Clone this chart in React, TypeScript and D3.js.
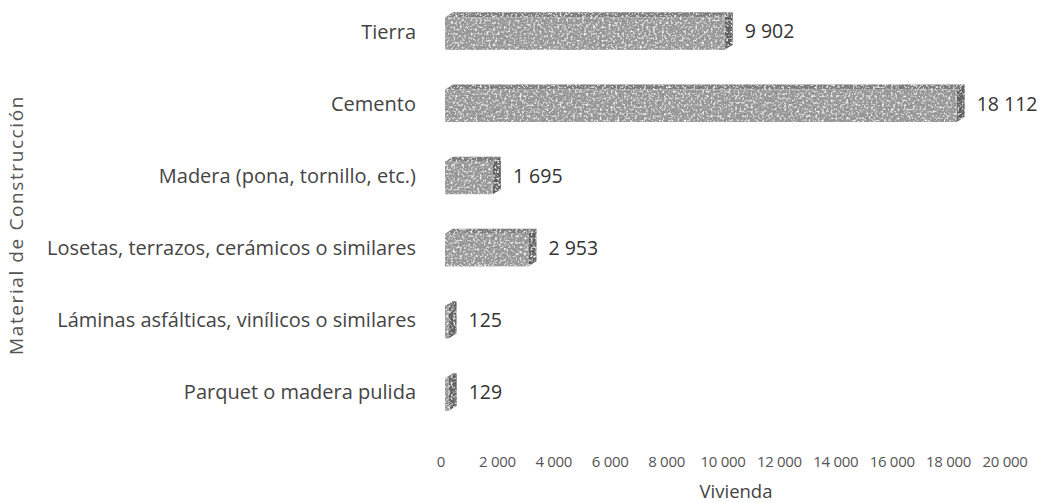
import React, { useEffect, useRef } from 'react';
import * as d3 from 'd3';

const categories = [
  'Tierra',
  'Cemento',
  'Madera (pona, tornillo, etc.)',
  'Losetas, terrazos, cerámicos o similares',
  'Láminas asfálticas, vinílicos o similares',
  'Parquet o madera pulida',
];
const values = [9902, 18112, 1695, 2953, 125, 129];
const xTicks = [0, 2000, 4000, 6000, 8000, 10000, 12000, 14000, 16000, 18000, 20000];

const fmt = (v: number) => d3.format(',')(v).replace(/,/g, ' ');

const App = () => {
  const ref = useRef<SVGSVGElement>(null);

  useEffect(() => {
    if (!ref.current) return;
    const svg = d3.select(ref.current);
    svg.selectAll('*').remove();

    const width = 1045;
    const height = 503;
    const font = "'Open Sans', sans-serif";

    const x = d3.scaleLinear().domain([0, 20000]).range([445, 1010]);
    // axis labels sit on a slightly different projection than the 3D bars
    const xAxis = d3.scaleLinear().domain([0, 20000]).range([441, 1005]);
    const y = d3.scaleBand().domain(categories).range([-5, 428]).paddingInner(0.48).paddingOuter(0.24);

    const dx = 8;
    const dy = 5;

    const defs = svg.append('defs');
    const f = defs.append('filter').attr('id', 'grain').attr('x', 0).attr('y', 0).attr('width', 1).attr('height', 1);
    f.append('feTurbulence').attr('type', 'fractalNoise').attr('baseFrequency', 0.45).attr('numOctaves', 2).attr('seed', 7).attr('result', 'noise');
    // dark specks
    f.append('feColorMatrix').attr('in', 'noise').attr('type', 'matrix')
      .attr('values', '0 0 0 0 0.25  0 0 0 0 0.25  0 0 0 0 0.25  -3 0 0 0 1.5').attr('result', 'dark');
    // light specks
    f.append('feColorMatrix').attr('in', 'noise').attr('type', 'matrix')
      .attr('values', '0 0 0 0 1  0 0 0 0 1  0 0 0 0 1  0 -3 0 0 1.5').attr('result', 'light');
    f.append('feComposite').attr('in', 'dark').attr('in2', 'SourceGraphic').attr('operator', 'in').attr('result', 'd2');
    f.append('feComposite').attr('in', 'light').attr('in2', 'SourceGraphic').attr('operator', 'in').attr('result', 'l2');
    f.append('feMerge').call(m => {
      m.append('feMergeNode').attr('in', 'SourceGraphic');
      m.append('feMergeNode').attr('in', 'd2');
      m.append('feMergeNode').attr('in', 'l2');
    });

    svg.append('rect').attr('width', width).attr('height', height).attr('fill', '#fff');

    const rows = svg.append('g').selectAll('g').data(categories).join('g');

    rows.each(function (c, i) {
      const g = d3.select(this);
      const v = values[i];
      const x0 = x(0);
      const x1 = x(v);
      const top = (y(c) as number) + dy;
      const bottom = (y(c) as number) + y.bandwidth();
      const mid = (top + bottom) / 2 - 2;
      const bars = g.append('g').attr('filter', 'url(#grain)');
      bars.append('path')
        .attr('d', `M${x0},${top}L${x0 + dx},${top - dy}L${x1 + dx},${top - dy}L${x1},${top}Z`)
        .attr('fill', '#7a7a7a');
      bars.append('path')
        .attr('d', `M${x1},${top}L${x1 + dx},${top - dy}L${x1 + dx},${bottom - dy}L${x1},${bottom}Z`)
        .attr('fill', '#5c5c5c');
      bars.append('rect')
        .attr('x', x0).attr('y', top).attr('width', x1 - x0).attr('height', bottom - top)
        .attr('fill', '#999');

      g.append('text')
        .attr('x', x1 + dx + 12)
        .attr('y', mid)
        .attr('dy', '0.35em')
        .attr('font-family', font)
        .attr('font-size', 19.5)
        .attr('fill', '#333')
        .text(fmt(v));

      g.append('text')
        .attr('x', 416)
        .attr('y', mid)
        .attr('dy', '0.35em')
        .attr('text-anchor', 'end')
        .attr('font-family', font)
        .attr('font-size', 20)
        .attr('fill', '#444')
        .text(c);
    });

    svg.append('g').selectAll('text').data(xTicks).join('text')
      .attr('x', d => xAxis(d))
      .attr('y', 467)
      .attr('text-anchor', 'middle')
      .attr('font-family', font)
      .attr('font-size', 15)
      .attr('letter-spacing', -0.3)
      .attr('fill', '#555')
      .text(d => fmt(d));

    svg.append('text')
      .attr('x', 736)
      .attr('y', 498)
      .attr('text-anchor', 'middle')
      .attr('font-family', font)
      .attr('font-size', 18.5)
      .attr('fill', '#444')
      .text('Vivienda');

    svg.append('text')
      .attr('transform', 'translate(23,225) rotate(-90)')
      .attr('text-anchor', 'middle')
      .attr('font-family', font)
      .attr('font-size', 19)
      .attr('letter-spacing', 1.6)
      .attr('fill', '#555')
      .text('Material de Construcción');
  }, []);

  return (
    <svg
      ref={ref}
      width={1045}
      height={503}
      style={{ position: 'absolute', left: 0, top: 0 }}
    />
  );
};

export default App;
